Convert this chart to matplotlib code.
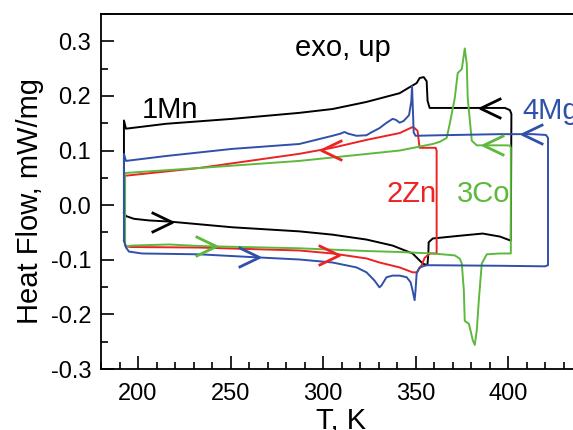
import numpy as np
import matplotlib
matplotlib.use("Agg")
from matplotlib import pyplot as plt
from matplotlib.lines import Line2D
from matplotlib.path import Path
from matplotlib.ticker import MultipleLocator, FormatStrFormatter

plt.rcParams['font.family'] = ['Liberation Sans', 'DejaVu Sans']
plt.rcParams['axes.unicode_minus'] = False

# 1Mn, heating branch then cooling branch (T in K, heat flow in mW/mg)
mn_heat_T = [192.4, 193.5, 197.8, 206.0, 216.8, 250.9, 287.2, 305.1, 323.5, 337.6, 348.4, 353.9,
             356.4, 356.9, 357.1, 359.3, 373.9, 386.3, 395.6, 401.5]
mn_heat_HF = [-0.014, -0.020, -0.025, -0.028, -0.030, -0.0405, -0.048, -0.054, -0.063, -0.074, -0.0885, -0.107,
              -0.110, -0.090, -0.068, -0.061, -0.056, -0.052, -0.0575, -0.065]
mn_cool_T = [401.8, 401.0, 398.3, 384.7, 363.1, 357.6, 356.5, 356.0, 354.4, 352.2, 350.6, 346.8,
             341.4, 323.5, 305.1, 287.2, 250.9, 215.2, 193.5, 192.4]
mn_cool_HF = [0.167, 0.174, 0.178, 0.178, 0.178, 0.178, 0.191, 0.227, 0.2345, 0.2327, 0.2235, 0.216,
              0.205, 0.189, 0.176, 0.169, 0.158, 0.149, 0.140, 0.155]

# 2Zn
zn_heat_T = [193.0, 193.5, 196.7, 233.0, 287.2, 305.1, 323.5, 330.5, 341.4, 348.4, 350.6, 353.3,
             354.9, 357.6, 361.4]
zn_heat_HF = [-0.072, -0.0757, -0.0767, -0.0776, -0.083, -0.0885, -0.0976, -0.105, -0.114, -0.123, -0.123, -0.110,
              -0.0967, -0.0885, -0.0885]
zn_cool_T = [361.4, 360.9, 352.2, 351.1, 349.5, 348.4, 341.4, 323.5, 305.1, 287.2, 233.0, 193.5, 193.0]
zn_cool_HF = [0.0995, 0.105, 0.105, 0.136, 0.141, 0.143, 0.132, 0.1195, 0.105, 0.094, 0.068, 0.054, 0.054]

# 3Co
co_heat_T = [193.0, 193.5, 196.7, 216.8, 233.0, 287.2, 323.5, 341.4, 359.3, 371.2, 373.9, 375.0,
             376.1, 376.6, 378.8, 379.3, 380.9, 382.0, 383.1, 384.2, 385.8, 388.5, 395.6, 401.5]
co_heat_HF = [-0.072, -0.0757, -0.074, -0.072, -0.0748, -0.079, -0.084, -0.0858, -0.0885, -0.092, -0.098, -0.107,
              -0.156, -0.212, -0.217, -0.2235, -0.247, -0.256, -0.229, -0.174, -0.107, -0.090, -0.0885, -0.0885]
co_cool_T = [401.5, 401.0, 399.3, 383.1, 380.4, 378.2, 377.7, 376.6, 375.0, 372.8, 371.2, 368.5,
             366.8, 363.1, 359.3, 341.4, 287.2, 233.0, 193.5, 193.0]
co_cool_HF = [0.105, 0.109, 0.1095, 0.1095, 0.118, 0.196, 0.258, 0.287, 0.249, 0.242, 0.196, 0.149,
              0.123, 0.116, 0.112, 0.100, 0.081, 0.068, 0.059, 0.059]

# 4Mg
mg_heat_T = [192.4, 193.5, 195.1, 202.2, 233.0, 265.5, 287.2, 305.1, 318.1, 323.5, 327.8, 330.5,
             331.6, 334.3, 337.6, 341.4, 345.2, 347.3, 348.4, 349.5, 350.0, 350.6, 352.2, 355.9,
             359.3, 395.6, 419.9, 421.6]
mg_heat_HF = [-0.065, -0.0776, -0.085, -0.0885, -0.090, -0.0958, -0.0995, -0.105, -0.114, -0.123, -0.138, -0.1505,
              -0.147, -0.132, -0.129, -0.129, -0.132, -0.141, -0.156, -0.174, -0.156, -0.125, -0.114, -0.110,
              -0.110, -0.111, -0.112, -0.110]
mg_cool_T = [421.6, 420.5, 413.4, 395.6, 363.1, 350.0, 349.0, 348.4, 348.1, 347.7, 346.5, 345.2,
             343.5, 341.4, 339.5, 337.6, 334.0, 330.5, 326.0, 323.5, 318.1, 313.5, 311.6, 309.5,
             305.1, 287.2, 250.9, 215.2, 193.5, 192.4]
mg_cool_HF = [0.123, 0.1285, 0.130, 0.130, 0.128, 0.127, 0.133, 0.190, 0.218, 0.190, 0.165, 0.160,
              0.154, 0.151, 0.156, 0.158, 0.150, 0.141, 0.133, 0.128, 0.127, 0.131, 0.134, 0.131,
              0.127, 0.112, 0.103, 0.090, 0.081, 0.094]

# where the direction arrows sit (T of the arrow tip)
arrow_heat_T = [218.4, 308.9, 242.3, 265.5]
arrow_cool_T = [384.7, 299.1, 386.3, 407.5]

names = ['1Mn', '2Zn', '3Co', '4Mg']
colors = ['black', '#ee2222', '#5cb93e', '#3050aa']
heats = [(mn_heat_T, mn_heat_HF), (zn_heat_T, zn_heat_HF), (co_heat_T, co_heat_HF), (mg_heat_T, mg_heat_HF)]
cools = [(mn_cool_T, mn_cool_HF), (zn_cool_T, zn_cool_HF), (co_cool_T, co_cool_HF), (mg_cool_T, mg_cool_HF)]
label_pos = [(202.2, 0.160), (334.4, 0.0055), (372.2, 0.0055), (407.6, 0.158)]

right_head = Path([(-1, 0.48), (0, 0), (-1, -0.48)], [Path.MOVETO, Path.LINETO, Path.LINETO])
left_head = Path([(1, 0.48), (0, 0), (1, -0.48)], [Path.MOVETO, Path.LINETO, Path.LINETO])


def value_on(T, HF, t):
    T = np.asarray(T)
    HF = np.asarray(HF)
    order = np.argsort(T)
    return np.interp(t, T[order], HF[order])


fig = plt.figure(figsize=(5.73, 4.30), dpi=100)
# the frame runs off the right edge of the picture, so stop the axes there
ax = fig.add_axes([101 / 573, 61 / 430, 472 / 573, 355 / 430])

for i in range(4):
    hT, hH = heats[i]
    cT, cH = cools[i]
    T = list(hT) + list(cT) + [hT[0]]
    H = list(hH) + list(cH) + [hH[0]]
    ax.plot(T, H, color=colors[i], lw=1.4, zorder=3 + i * 0.1)
    ax.plot(arrow_heat_T[i], value_on(hT, hH, arrow_heat_T[i]), marker=right_head, ms=30,
            mfc='none', mec=colors[i], mew=2.0, zorder=5)
    ax.plot(arrow_cool_T[i], value_on(cT, cH, arrow_cool_T[i]), marker=left_head, ms=30,
            mfc='none', mec=colors[i], mew=2.0, zorder=5)
    ax.text(label_pos[i][0], label_pos[i][1], names[i], color=colors[i], fontsize=21, va='baseline',
            clip_on=False)

ax.text(284.9, 0.273, 'exo, up', fontsize=21, va='baseline')

ax.set_xlim(180, 435.1)
ax.set_ylim(-0.3, 0.35)
ax.xaxis.set_major_locator(MultipleLocator(50))
ax.xaxis.set_minor_locator(MultipleLocator(10))
ax.yaxis.set_major_locator(MultipleLocator(0.1))
ax.yaxis.set_minor_locator(MultipleLocator(0.05))
ax.yaxis.set_major_formatter(FormatStrFormatter('%.1f'))
ax.tick_params(which='both', direction='in', width=1.2, labelsize=17)
ax.tick_params(which='major', length=9.5)
ax.tick_params(which='minor', length=5)
ax.tick_params(axis='x', pad=10)
ax.tick_params(axis='y', pad=7)
for s in ax.spines.values():
    s.set_linewidth(1.3)
    s.set_color('black')
ax.spines['right'].set_visible(False)
ax.spines['top'].set_visible(False)
# top edge of the frame as a figure line
fig.add_artist(Line2D([101 / 573, 1.0], [416.5 / 430, 416.5 / 430], color='black', lw=1.4))

ax.set_xlabel('T, K', fontsize=21)
ax.set_ylabel('Heat Flow, mW/mg', fontsize=21)
ax.xaxis.set_label_coords(0.5 * 481 / 472, -0.107)
ax.yaxis.set_label_coords(-0.12, 0.472)

fig.savefig('out.png', dpi=100)
